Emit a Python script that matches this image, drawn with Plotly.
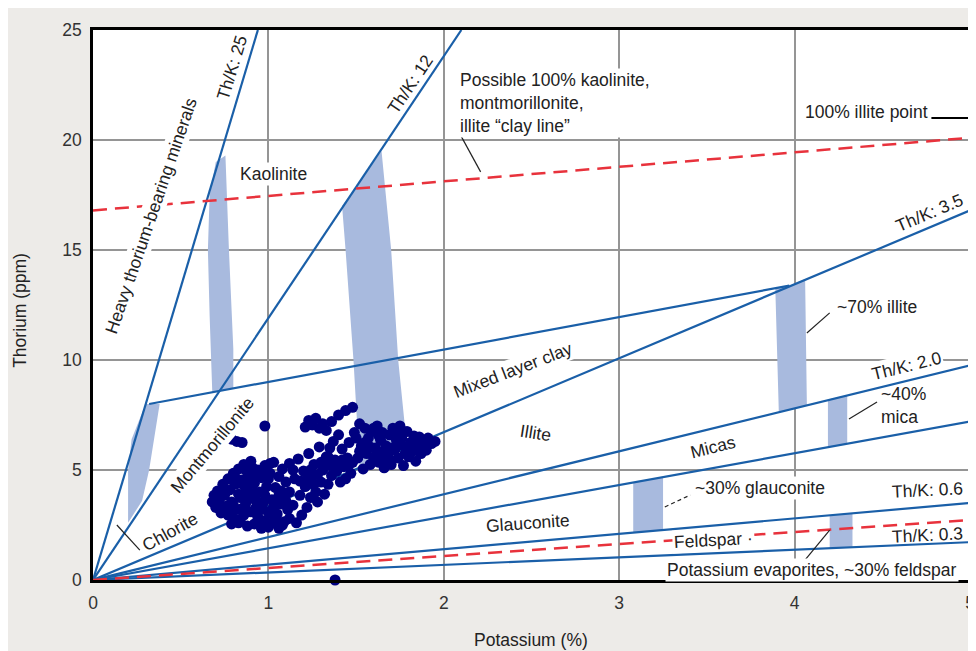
import plotly.graph_objects as go

# ---------------- data ----------------
k_ticks = [0, 1, 2, 3, 4, 5]
th_ticks = [0, 5, 10, 15, 20, 25]

# rays from the origin (end points)
ray_end_k = [0.94, 2.10, 5.0, 5.0, 5.0, 5.0, 5.0]
ray_end_th = [25.0, 25.0, 16.8, 9.75, 7.2, 3.5, 1.72]

# mixed-layer clay upper boundary
mixed_k = [0.32, 3.97]
mixed_th = [8.0, 13.38]

# red dashed lines
clay_line_k = [0.0, 5.0]
clay_line_th = [16.8, 20.1]
feldspar_line_k = [0.0, 5.0]
feldspar_line_th = [0.0, 2.73]

# 100% illite point marker line
illite_pt_k = [4.78, 5.0]
illite_pt_th = [21.0, 21.0]

# shaded bars (polygons)
chlorite_bar_k = [0.30, 0.38, 0.35, 0.32, 0.28, 0.20, 0.20, 0.22]
chlorite_bar_th = [8.0, 8.0, 6.5, 5.0, 3.6, 2.6, 5.0, 6.4]
kaol_bar_k = [0.70, 0.755, 0.775, 0.80, 0.80, 0.68, 0.665, 0.655, 0.665]
kaol_bar_th = [19.0, 19.3, 15.0, 10.5, 8.7, 8.55, 12.0, 15.0, 17.5]
mont_bar_k = [1.645, 1.70, 1.74, 1.79, 1.52, 1.485, 1.44, 1.42]
mont_bar_th = [19.5, 15.0, 10.0, 6.05, 5.12, 10.0, 15.0, 17.0]
illite_bar_k = [3.89, 3.97, 4.06, 4.07, 3.91]
illite_bar_th = [13.25, 13.38, 13.68, 7.95, 7.62]
mica_bar_k = [4.19, 4.30, 4.30, 4.19]
mica_bar_th = [8.2, 8.4, 6.2, 6.05]
glauc_bar_k = [3.08, 3.25, 3.25, 3.08]
glauc_bar_th = [4.43, 4.68, 2.28, 2.16]
feld_bar_k = [4.20, 4.33, 4.33, 4.20]
feld_bar_th = [2.94, 3.03, 1.47, 1.43]

# leader lines (k0, th0, k1, th1)
leader_clay = [2.09, 20.3, 2.21, 18.55]
leader_chlorite = [0.136, 2.5, 0.267, 1.36]
leader_illite = [4.07, 11.23, 4.20, 12.14]
leader_mica = [4.31, 7.32, 4.47, 8.09]
leader_glauc = [3.26, 3.32, 3.405, 3.86]
leader_feld = [4.06, 0.91, 4.20, 2.27]

# sample points (K %, Th ppm)
sample_k = [
    0.68, 0.69, 0.70, 0.71, 0.72, 0.73, 0.74, 0.75, 0.76, 0.77, 0.77, 0.78, 0.79, 0.80, 0.80,
    0.81, 0.82, 0.83, 0.83, 0.84, 0.85, 0.86, 0.86, 0.87, 0.88, 0.88, 0.89, 0.90, 0.90, 0.91,
    0.92, 0.92, 0.93, 0.94, 0.94, 0.95, 0.96, 0.96, 0.97, 0.98, 0.98, 0.99, 1.00, 1.00, 1.01,
    1.02, 1.03, 1.03, 1.04, 1.05, 1.06, 1.06, 1.07, 1.08, 1.09, 1.09, 1.10, 1.11, 1.12, 1.12,
    0.70, 0.72, 0.74, 0.76, 0.78, 0.80, 0.82, 0.84, 0.86, 0.88, 0.90, 0.92, 0.94, 0.96, 0.98,
    1.00, 1.02, 1.04, 1.06, 1.08, 1.10, 0.79, 0.83, 0.87, 0.91, 0.95, 0.99, 1.03, 1.07, 0.85,
    0.93, 1.01,
    1.14, 1.15, 1.16, 1.17, 1.18, 1.19, 1.20, 1.21, 1.22, 1.23, 1.24, 1.25, 1.26, 1.27, 1.28,
    1.29, 1.30, 1.31, 1.32, 1.33, 1.34, 1.35, 1.36, 1.37, 1.38, 1.39, 1.40, 1.41, 1.42, 1.43,
    1.44, 1.45, 1.46, 1.47, 1.48, 1.49,
    1.12, 1.14, 1.18, 1.22, 1.26, 1.30, 1.34, 1.38, 1.42, 1.46, 1.24, 1.28, 1.35,
    1.21, 1.23, 1.25, 1.27, 1.29, 1.31, 1.33, 1.36, 1.40, 1.44, 1.48,
    0.98, 0.79, 0.82, 0.85, 1.38,
    1.50, 1.51, 1.52, 1.53, 1.54, 1.55, 1.56, 1.57, 1.58, 1.59, 1.60, 1.61, 1.62, 1.63, 1.64,
    1.65, 1.66, 1.67, 1.68, 1.69, 1.70, 1.71, 1.72, 1.73, 1.74, 1.75, 1.76, 1.77, 1.78, 1.79,
    1.80, 1.81, 1.82, 1.83, 1.84, 1.85, 1.86, 1.87, 1.88, 1.89, 1.90, 1.91, 1.93, 1.95,
    1.52, 1.55, 1.58, 1.60, 1.63, 1.66, 1.69, 1.72, 1.75, 1.78, 1.81, 1.84, 1.87, 1.90, 1.65,
    1.70, 1.62, 1.76,
]
sample_th = [
    3.55, 3.85, 3.30, 4.05, 3.60, 3.05, 4.35, 3.85, 3.35, 4.60, 2.95, 4.10, 3.55, 4.85, 2.80,
    4.35, 3.20, 5.05, 2.60, 3.75, 4.55, 2.95, 5.25, 3.45, 4.10, 2.45, 4.80, 3.10, 5.40, 3.70,
    2.55, 4.40, 3.30, 5.00, 2.85, 4.00, 2.35, 4.65, 3.50, 2.70, 5.20, 4.25, 3.10, 2.40, 4.85,
    3.65, 2.60, 5.35, 4.20, 3.00, 2.35, 4.70, 3.45, 5.05, 2.65, 3.95, 4.45, 3.20, 5.30, 2.80,
    3.75, 3.25, 3.90, 4.05, 3.00, 3.40, 4.60, 2.75, 4.30, 3.70, 4.55, 3.95, 3.55, 3.20, 3.85,
    4.60, 3.00, 2.75, 3.85, 2.50, 3.60, 2.55, 3.90, 5.00, 5.10, 2.60, 4.90, 3.35, 4.05, 3.25,
    4.75, 5.30,
    3.40, 4.60, 2.60, 5.50, 3.85, 2.95, 4.95, 4.25, 3.30, 5.75, 3.75, 4.70, 5.25, 4.00, 3.55,
    6.05, 4.45, 5.00, 3.90, 5.60, 4.35, 5.20, 4.75, 6.30, 5.45, 4.95, 6.60, 4.45, 5.95, 5.15,
    4.60, 5.55, 6.25, 4.85, 5.35, 6.70,
    4.00, 5.00, 4.50, 4.60, 4.35, 5.35, 5.60, 5.15, 5.45, 5.25, 5.00, 4.80, 6.00,
    6.95, 7.25, 7.05, 7.35, 6.90, 7.10, 6.80, 7.20, 7.50, 7.70, 7.85,
    7.00, 6.40, 6.30, 6.25, 0.00,
    6.45, 5.55, 7.10, 6.10, 5.05, 6.90, 5.75, 6.45, 5.25, 6.75, 5.55, 6.00, 7.00, 5.35, 6.35,
    6.70, 5.10, 6.10, 5.65, 6.60, 5.25, 6.90, 5.90, 6.35, 5.55, 7.00, 6.45, 5.20, 6.05, 6.75,
    5.60, 6.25, 5.85, 6.55, 5.40, 6.15, 6.50, 5.75, 6.30, 6.05, 5.90, 6.45, 6.20, 6.30,
    5.85, 6.25, 6.05, 6.90, 6.55, 5.85, 5.45, 6.60, 6.15, 5.75, 5.95, 6.35, 6.05, 6.25, 5.50,
    6.00, 5.85, 6.80,
]

# ---------------- styles ----------------
BLUE = "#1a5fa8"
RED = "#e8323c"
BAR = "#a8bade"
FONT = "Liberation Sans, Arial, sans-serif"
TXT = "#222222"
FS = 17.5

fig = go.Figure()

bars = [
    (chlorite_bar_k, chlorite_bar_th), (kaol_bar_k, kaol_bar_th), (mont_bar_k, mont_bar_th),
    (illite_bar_k, illite_bar_th), (mica_bar_k, mica_bar_th), (glauc_bar_k, glauc_bar_th),
    (feld_bar_k, feld_bar_th),
]
for bk, bt in bars:
    fig.add_trace(go.Scatter(x=bk + [bk[0]], y=bt + [bt[0]], mode="lines", fill="toself",
                             fillcolor=BAR, line=dict(width=0, color=BAR), hoverinfo="skip",
                             showlegend=False))

for ek, et in zip(ray_end_k, ray_end_th):
    fig.add_trace(go.Scatter(x=[0, ek], y=[0, et], mode="lines",
                             line=dict(color=BLUE, width=2.2), hoverinfo="skip", showlegend=False))
fig.add_trace(go.Scatter(x=mixed_k, y=mixed_th, mode="lines",
                         line=dict(color=BLUE, width=2.2), hoverinfo="skip", showlegend=False))

for lk, lt in [(clay_line_k, clay_line_th), (feldspar_line_k, feldspar_line_th)]:
    fig.add_trace(go.Scatter(x=lk, y=lt, mode="lines",
                             line=dict(color=RED, width=2.5, dash="14px,8px"),
                             hoverinfo="skip", showlegend=False))

fig.add_trace(go.Scatter(x=illite_pt_k, y=illite_pt_th, mode="lines",
                         line=dict(color="black", width=2), hoverinfo="skip", showlegend=False))

fig.add_trace(go.Scatter(x=sample_k, y=sample_th, mode="markers", cliponaxis=False,
                         marker=dict(symbol="circle", size=11, color="#000080"),
                         showlegend=False))

shapes = []
for seg, dash in [(leader_clay, "solid"), (leader_chlorite, "solid"), (leader_illite, "solid"),
                  (leader_mica, "solid"), (leader_glauc, "4px,3px"), (leader_feld, "solid")]:
    shapes.append(dict(type="line", xref="x", yref="y", x0=seg[0], y0=seg[1], x1=seg[2], y1=seg[3],
                       line=dict(color="#222", width=1.2, dash=dash), layer="above"))


def lab(text, x, y, angle=0, bg=None, xanchor="center", align="center", size=FS):
    d = dict(text=text, x=x, y=y, xref="x", yref="y", showarrow=False, textangle=angle,
             xanchor=xanchor, yanchor="middle", align=align,
             font=dict(family=FONT, size=size, color=TXT))
    if bg:
        d["bgcolor"] = bg
        d["borderpad"] = 1
    return d


annotations = [
    lab("Th/K: 25", 0.795, 23.3, -73),
    lab("Heavy thorium-bearing minerals", 0.33, 16.55, -71, bg="white"),
    lab("Th/K: 12", 1.81, 22.55, -56),
    lab("Possible 100% kaolinite,<br>montmorillonite,<br>illite \u201cclay line\u201d", 2.083, 21.7,
        bg="white", xanchor="left", align="left"),
    lab("Kaolinite", 1.027, 18.45, bg="white"),
    lab("100% illite point", 4.77, 21.27, xanchor="right"),
    lab("Th/K: 3.5", 4.767, 16.68, -23),
    lab("~70% illite", 4.23, 12.4, xanchor="left"),
    lab("Mixed layer clay", 2.395, 9.55, -21, bg="white"),
    lab("Montmorillonite", 0.68, 6.14, -50, bg="white"),
    lab("Chlorite", 0.437, 2.18, -29),
    lab("Illite", 2.525, 6.68, 9),
    lab("Th/K: 2.0", 4.637, 9.73, -14, bg="white"),
    lab("~40%<br>mica", 4.48, 7.95, xanchor="left", align="left"),
    lab("Micas", 3.536, 6.05, -14),
    lab("~30% glauconite", 3.80, 4.18, bg="white"),
    lab("Glauconite", 2.48, 2.6, -4),
    lab("Th/K: 0.6", 4.76, 4.1, -3),
    lab("Feldspar \u00b7", 3.536, 1.82, -3, bg="white"),
    lab("Th/K: 0.3", 4.76, 2.05, -3),
    lab("Potassium evaporites, ~30% feldspar", 4.10, 0.45, bg="white"),
    dict(text="Thorium (ppm)", x=-0.084, y=0.49, xref="paper", yref="paper", showarrow=False,
         xanchor="center", yanchor="middle", textangle=-90,
         font=dict(family=FONT, size=FS, color=TXT)),
    dict(text="Potassium (%)", x=0.4995, y=-0.109, xref="paper", yref="paper", showarrow=False,
         xanchor="center", yanchor="middle",
         font=dict(family=FONT, size=FS, color=TXT)),
]

axis_common = dict(showgrid=True, gridcolor="#959595", gridwidth=1.8, showline=True, mirror=True,
                   linecolor="black", linewidth=2.5, ticks="outside", ticklen=5,
                   tickcolor="rgba(0,0,0,0)", zeroline=False,
                   tickfont=dict(family=FONT, size=FS, color="#333"))

fig.update_layout(
    width=976, height=651,
    margin=dict(l=85, r=9, t=22, b=79),
    paper_bgcolor="#EDEBE8", plot_bgcolor="white",
    xaxis=dict(range=[0, 5], tickvals=k_ticks, **axis_common),
    yaxis=dict(range=[0, 25], tickvals=th_ticks, **axis_common),
    shapes=shapes, annotations=annotations, showlegend=False,
    font=dict(family=FONT),
)

fig.write_html("out.html")
